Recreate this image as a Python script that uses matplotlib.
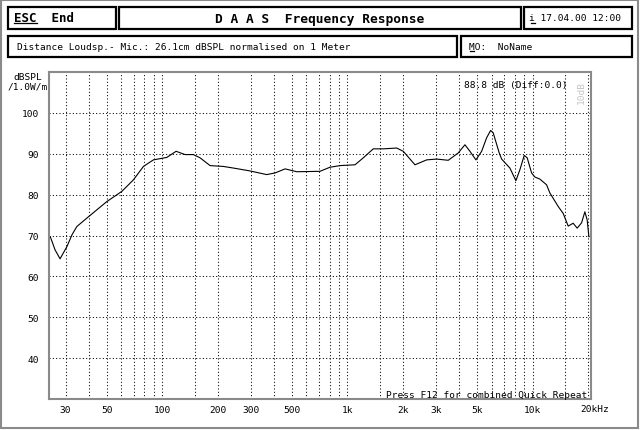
import matplotlib
matplotlib.use("Agg")
import matplotlib.pyplot as plt
import matplotlib.transforms as mtransforms
from matplotlib.patches import Rectangle

# Frequency response
freq_hz = [24.8, 26.3, 28.0, 30.5, 32.5, 34.5, 39.9, 50.1, 60.4, 69.7, 79.0,
           89.4, 105.6, 118.6, 132.6, 147, 159.8, 181, 213, 242, 297, 366,
           406, 460, 532, 710, 804, 911, 1098, 1217, 1378, 1561, 1844, 2001,
           2315, 2677, 3031, 3502, 3965, 4310, 4586, 4941, 5305, 5644, 5932,
           6127, 6602, 6802, 7541, 8124, 8540, 9009, 9350, 9876, 10290,
           10950, 11900, 12400, 13750, 14630, 15570, 16560, 17410, 18390,
           19160, 19720, 20140]
spl_db = [69.7, 66.5, 64.3, 67.3, 70.2, 72.2, 74.6, 78.3, 80.8, 83.6, 86.9,
          88.5, 89.1, 90.6, 89.8, 89.8, 89.0, 87.1, 86.9, 86.5, 85.8, 84.9,
          85.3, 86.3, 85.6, 85.7, 86.7, 87.1, 87.3, 89.0, 91.2, 91.2, 91.4,
          90.6, 87.3, 88.5, 88.7, 88.4, 90.2, 92.2, 90.6, 88.5, 90.6, 93.9,
          95.7, 95.1, 90.2, 88.7, 86.5, 83.4, 86.1, 89.6, 89.0, 85.3, 84.3,
          83.8, 82.4, 80.4, 77.1, 75.4, 72.3, 73.0, 71.8, 73.1,
          75.8, 73.8, 69.7]

grid_freqs = [30, 40, 50, 60, 70, 80, 90, 100, 150, 200, 300, 400, 500, 600,
              700, 800, 900, 1000, 1500, 2000, 3000, 4000, 5000, 6000, 7000,
              8000, 9000, 10000, 15000, 20000]
freq_labels = {30: "30", 50: "50", 100: "100", 200: "200", 300: "300",
               500: "500", 1000: "1k", 2000: "2k", 3000: "3k", 5000: "5k",
               10000: "10k"}
db_ticks = [40, 50, 60, 70, 80, 90, 100]

mono = "DejaVu Sans Mono"
fs = 6.8

W, H = 640, 431
fig = plt.figure(figsize=(W / 100, H / 100), dpi=100)

# pixel overlay for the screen frame / header boxes
ov = fig.add_axes([0, 0, 1, 1], zorder=0)
ov.set_xlim(0, W)
ov.set_ylim(H, 0)
ov.axis("off")

ov.add_patch(Rectangle((1, 1), W - 3, H - 3, fill=False, ec="#8a8a8a", lw=1.5))

boxes = [(8, 8, 116, 30), (119, 8, 521, 30), (524, 8, 632, 30),
         (8, 37, 457, 58), (461, 37, 632, 58)]
for x0, y0, x1, y1 in boxes:
    ov.add_patch(Rectangle((x0, y0), x1 - x0, y1 - y0, fill=False,
                           ec="black", lw=1.6))

ov.text(14, 19, "ESC  End", family=mono, weight="bold", fontsize=9,
        ha="left", va="center")
ov.plot([14, 36.5], [23.5, 23.5], color="black", lw=0.9)
ov.text(320, 19.5, "D A A S  Frequency Response", family=mono, weight="bold",
        fontsize=9.3, ha="center", va="center")
ov.text(529, 18.5, "i 17.04.00 12:00", family=mono, fontsize=fs,
        ha="left", va="center")
ov.plot([530.5, 534.5], [23.5, 23.5], color="black", lw=0.9)
ov.text(17, 47, "Distance Loudsp.- Mic.: 26.1cm dBSPL normalised on 1 Meter",
        family=mono, fontsize=fs, ha="left", va="center")
ov.text(469, 47, "MO:  NoName", family=mono, fontsize=fs, ha="left",
        va="center")
ov.plot([469.5, 473.5], [52, 52], color="black", lw=0.9)

ov.text(27.5, 77.5, "dBSPL", family=mono, fontsize=fs, ha="center", va="center")
ov.text(27.5, 87, "/1.0W/m", family=mono, fontsize=fs, ha="center", va="center")

# main plot
ax = fig.add_axes([49 / W, (H - 400) / H, (590.7 - 49) / W, (400 - 73) / H],
                  zorder=1)
ax.plot(freq_hz, spl_db, color="black", lw=0.8)
ax.set_xscale("log")
ax.set_xlim(24.4, 20600)
ax.set_ylim(30, 110)

ax.set_xticks(grid_freqs)
ax.set_xticklabels([freq_labels.get(f, "") for f in grid_freqs])
ax.minorticks_off()
ax.set_yticks(db_ticks)
ax.set_yticklabels([str(v) for v in db_ticks])
ax.tick_params(axis="both", length=0, labelsize=fs)
ax.tick_params(axis="x", pad=4)
ax.tick_params(axis="y", pad=7.5)
for lab in ax.get_xticklabels() + ax.get_yticklabels():
    lab.set_family(mono)
ax.grid(True, color="black", lw=0.75, linestyle=(0, (1, 2.2)))

for s in ax.spines.values():
    s.set_color("#8a8a8a")
    s.set_linewidth(1.5)

off = mtransforms.ScaledTranslation(-8.5 / 100, -9.5 / 100, fig.dpi_scale_trans)
ax.text(20000, 0, "20kHz", transform=ax.get_xaxis_transform() + off,
        family=mono, fontsize=fs, ha="left", va="center", clip_on=False)

ax.text(568, 85.5, "88.8 dB (Diff:0.0)", transform=ov.transData, family=mono,
        fontsize=fs, ha="right", va="center")
ax.text(581, 93, "10dB", transform=ov.transData, family=mono, fontsize=fs,
        color="#c4c4c4", rotation=90, ha="center", va="center")
ax.text(587, 396, "Press F12 for combined Quick Repeat", transform=ov.transData,
        family=mono, fontsize=fs, ha="right", va="center")

fig.savefig("out.png", dpi=100)
